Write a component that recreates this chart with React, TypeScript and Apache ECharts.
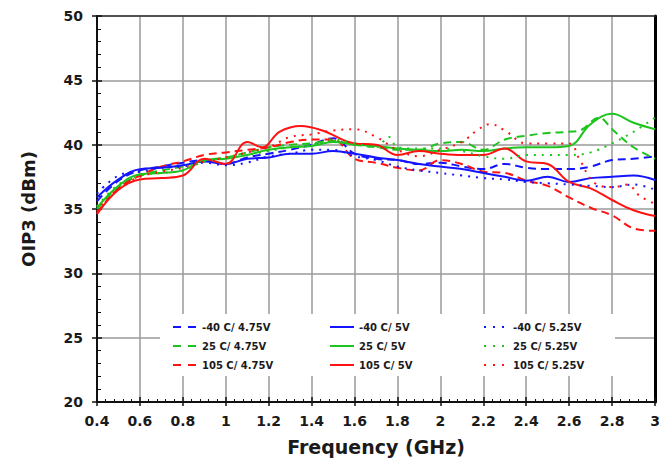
import React, { useEffect, useRef } from "react";
import * as echarts from "echarts";

const FONT = "DejaVu Sans";
const TXT = "#1a1a1a";

const BLUE = "#1414ff";
const GREEN = "#1ec41e";
const RED = "#ff1212";

const xMin = 0.4;
const xMax = 3;
const xStep = 0.2;
const yMin = 20;
const yMax = 50;
const yStep = 5;

const namesCol1 = ["-40 C/ 4.75V", "25 C/ 4.75V", "105 C/ 4.75V"];
const namesCol2 = ["-40 C/ 5V", "25 C/ 5V", "105 C/ 5V"];
const namesCol3 = ["-40 C/ 5.25V", "25 C/ 5.25V", "105 C/ 5.25V"];

const blue475: [number, number][] = [[0.4,35.6],[0.5,37.2],[0.6,38.0],[0.7,38.3],[0.8,38.6],[0.9,38.8],[1.0,38.5],[1.1,39.0],[1.2,39.3],[1.3,39.6],[1.4,40.0],[1.5,40.5],[1.6,39.3],[1.7,38.9],[1.8,38.8],[1.9,38.5],[2.0,38.6],[2.1,38.3],[2.2,38.1],[2.3,38.5],[2.4,38.2],[2.5,38.1],[2.6,38.1],[2.7,38.3],[2.8,38.8],[2.9,38.9],[3.0,39.1]];
const blue500: [number, number][] = [[0.4,35.9],[0.5,37.3],[0.6,38.1],[0.7,38.2],[0.8,38.4],[0.9,38.7],[1.0,38.5],[1.1,38.9],[1.2,39.0],[1.3,39.3],[1.4,39.3],[1.5,39.5],[1.6,39.3],[1.7,39.0],[1.8,38.8],[1.9,38.5],[2.0,38.3],[2.1,38.1],[2.2,37.8],[2.3,37.5],[2.4,37.2],[2.5,37.5],[2.6,37.1],[2.7,37.4],[2.8,37.5],[2.9,37.6],[3.0,37.25]];
const blue525: [number, number][] = [[0.4,36.2],[0.5,37.6],[0.6,37.9],[0.7,38.2],[0.8,38.3],[0.9,38.6],[1.0,38.4],[1.1,38.6],[1.2,39.1],[1.3,39.3],[1.4,39.6],[1.5,39.6],[1.6,39.1],[1.7,38.8],[1.8,38.3],[1.9,38.0],[2.0,37.8],[2.1,37.6],[2.2,37.4],[2.3,37.3],[2.4,37.1],[2.5,37.0],[2.6,36.9],[2.7,36.8],[2.8,36.7],[2.9,36.9],[3.0,36.5]];

const green475: [number, number][] = [[0.4,35.0],[0.5,36.7],[0.6,37.6],[0.7,38.0],[0.8,38.3],[0.9,38.8],[1.0,39.0],[1.1,39.4],[1.2,39.8],[1.3,40.0],[1.4,40.1],[1.5,40.3],[1.6,40.0],[1.7,39.8],[1.8,39.6],[1.9,39.6],[2.0,40.1],[2.1,40.2],[2.2,39.6],[2.3,40.4],[2.4,40.7],[2.5,40.9],[2.6,41.0],[2.65,41.1],[2.74,42.1],[2.8,41.2],[2.9,39.8],[3.0,38.9]];
const green500: [number, number][] = [[0.4,35.1],[0.5,36.8],[0.6,37.7],[0.7,37.8],[0.8,38.0],[0.9,38.8],[1.0,38.9],[1.1,39.2],[1.2,39.6],[1.3,39.8],[1.4,39.9],[1.5,40.2],[1.6,40.0],[1.7,39.9],[1.8,39.7],[1.9,39.6],[2.0,39.5],[2.1,39.6],[2.2,39.5],[2.3,39.7],[2.4,39.8],[2.5,39.8],[2.6,39.9],[2.7,41.6],[2.8,42.4],[2.9,41.7],[3.0,41.2]];
const green525: [number, number][] = [[0.4,35.2],[0.5,36.9],[0.6,37.6],[0.7,37.8],[0.8,38.0],[0.9,38.7],[1.0,39.0],[1.1,39.2],[1.2,39.5],[1.3,39.8],[1.4,40.0],[1.5,40.4],[1.6,40.1],[1.7,39.8],[1.76,40.6],[1.8,39.8],[1.9,39.7],[2.0,39.7],[2.1,39.5],[2.2,39.1],[2.3,38.9],[2.4,39.2],[2.5,39.2],[2.6,39.2],[2.7,39.4],[2.8,40.1],[2.9,41.0],[3.0,42.1]];

const red475: [number, number][] = [[0.4,34.7],[0.5,36.6],[0.6,37.6],[0.7,38.3],[0.8,38.7],[0.9,39.2],[1.0,39.4],[1.1,39.6],[1.2,39.8],[1.3,40.2],[1.4,40.4],[1.5,40.4],[1.6,38.9],[1.7,38.6],[1.8,38.2],[1.9,38.0],[2.0,38.8],[2.1,38.5],[2.2,37.9],[2.3,37.8],[2.4,37.2],[2.5,36.8],[2.6,35.9],[2.7,35.1],[2.8,34.5],[2.9,33.5],[3.0,33.3]];
const red500: [number, number][] = [[0.4,34.6],[0.5,36.5],[0.6,37.3],[0.7,37.4],[0.8,37.6],[0.9,38.9],[1.0,38.5],[1.1,40.2],[1.17,39.8],[1.25,41.0],[1.35,41.45],[1.45,41.1],[1.6,40.1],[1.7,40.0],[1.8,39.2],[1.9,39.5],[2.0,39.3],[2.1,39.2],[2.2,39.2],[2.3,39.7],[2.4,38.7],[2.5,38.5],[2.6,37.1],[2.7,36.6],[2.8,35.7],[2.9,34.9],[3.0,34.45]];
const red525: [number, number][] = [[0.4,34.8],[0.5,36.6],[0.6,37.5],[0.7,37.9],[0.8,38.2],[0.9,38.7],[1.0,39.0],[1.1,39.4],[1.2,39.8],[1.3,40.6],[1.4,40.8],[1.5,41.1],[1.6,41.2],[1.7,40.6],[1.8,39.6],[1.9,39.1],[2.0,39.6],[2.1,40.2],[2.17,41.1],[2.23,41.6],[2.3,41.1],[2.4,40.1],[2.5,40.1],[2.6,40.1],[2.65,38.8],[2.72,37.0],[2.81,36.7],[2.87,36.9],[2.93,36.0],[3.0,35.4]];

const DASH = [8, 5];
const DOT = [2, 6];
const LEG_DASH = [8, 7];
const LEG_DOT = [2, 7];

function mkSeries(name: string, data: [number, number][], color: string, type: any) {
  return {
    name,
    type: "line",
    data,
    smooth: 0.4,
    symbol: "none",
    showSymbol: false,
    xAxisIndex: 0,
    yAxisIndex: 0,
    itemStyle: { color },
    lineStyle: { color, width: 2, type },
    z: 3,
  };
}

export default function App() {
  const ref = useRef<HTMLDivElement>(null);
  useEffect(() => {
    if (!ref.current) return;
    const chart = echarts.init(ref.current, undefined, { renderer: "svg" });
    const xCommon = { type: "value", min: xMin, max: xMax, interval: xStep };
    const yCommon = { type: "value", min: yMin, max: yMax, interval: yStep };
    const labelStyle = { fontFamily: FONT, fontWeight: "bold", fontSize: 14, color: TXT };
    const colors = [BLUE, GREEN, RED];
    const legendBase = {
      orient: "vertical",
      top: 322,
      itemWidth: 24,
      itemHeight: 10,
      itemGap: 9,
      padding: 0,
      itemStyle: { opacity: 0, borderWidth: 0 },
      textStyle: { fontFamily: FONT, fontWeight: "bold", fontSize: 10, color: TXT },
    };
    const legData = (names: string[], type: any) =>
      names.map((n, i) => ({
        name: n,
        itemStyle: { opacity: 0, borderWidth: 0 },
        lineStyle: { color: colors[i], width: 2, type },
      }));
    chart.setOption({
      animation: false,
      backgroundColor: "#ffffff",
      grid: { left: 97, right: 15, top: 16, bottom: 60, containLabel: false },
      xAxis: [
        {
          ...xCommon,
          position: "bottom",
          axisLine: { show: true, lineStyle: { color: "#111", width: 2 } },
          axisTick: { show: true, inside: true, length: 5, lineStyle: { color: "#111", width: 1.5 } },
          minorTick: { show: true, splitNumber: 5, length: 3, lineStyle: { color: "#111", width: 1 } },
          axisLabel: { ...labelStyle, margin: 12, formatter: (v: number) => String(Math.round(v * 10) / 10) },
          splitLine: { show: true, lineStyle: { color: "#9a9a9a", width: 1.5 } },
          name: "Frequency (GHz)",
          nameLocation: "middle",
          nameGap: 35,
          nameTextStyle: { fontFamily: FONT, fontWeight: "bold", fontSize: 19, color: TXT },
        },
        {
          ...xCommon,
          position: "bottom",
          axisLine: { show: false },
          axisTick: { show: true, inside: false, length: 4, lineStyle: { color: "#111", width: 1.5 } },
          axisLabel: { show: false },
          splitLine: { show: false },
        },
        {
          ...xCommon,
          position: "top",
          axisLine: { show: true, lineStyle: { color: "#333", width: 1.5 } },
          axisTick: { show: false },
          axisLabel: { show: false },
          splitLine: { show: false },
        },
      ],
      yAxis: [
        {
          ...yCommon,
          position: "left",
          axisLine: { show: true, lineStyle: { color: "#111", width: 2 } },
          axisTick: { show: true, inside: true, length: 5, lineStyle: { color: "#111", width: 1.5 } },
          minorTick: { show: true, splitNumber: 5, length: 4, lineStyle: { color: "#111", width: 1 } },
          axisLabel: { ...labelStyle, margin: 14 },
          splitLine: { show: true, lineStyle: { color: "#9a9a9a", width: 1.5 } },
          name: "OIP3 (dBm)",
          nameLocation: "middle",
          nameGap: 60,
          nameRotate: 90,
          nameTextStyle: { fontFamily: FONT, fontWeight: "bold", fontSize: 18, color: TXT },
        },
        {
          ...yCommon,
          position: "left",
          axisLine: { show: false },
          axisTick: { show: true, inside: false, length: 5, lineStyle: { color: "#111", width: 1.5 } },
          axisLabel: { show: false },
          splitLine: { show: false },
        },
        {
          ...yCommon,
          position: "right",
          axisLine: { show: true, lineStyle: { color: "#000", width: 3 } },
          axisTick: { show: false },
          axisLabel: { show: false },
          splitLine: { show: false },
        },
      ],
      graphic: [
        {
          type: "rect",
          z: 1,
          shape: { x: 160, y: 314, width: 455, height: 62 },
          style: { fill: "#ffffff" },
          silent: true,
        },
      ],
      legend: [
        { ...legendBase, left: 172, data: legData(namesCol1, LEG_DASH) },
        { ...legendBase, left: 329, data: legData(namesCol2, "solid") },
        { ...legendBase, left: 483, data: legData(namesCol3, LEG_DOT) },
      ],
      series: [
        mkSeries(namesCol1[0], blue475, BLUE, DASH),
        mkSeries(namesCol1[1], green475, GREEN, DASH),
        mkSeries(namesCol1[2], red475, RED, DASH),
        mkSeries(namesCol2[0], blue500, BLUE, "solid"),
        mkSeries(namesCol2[1], green500, GREEN, "solid"),
        mkSeries(namesCol2[2], red500, RED, "solid"),
        mkSeries(namesCol3[0], blue525, BLUE, DOT),
        mkSeries(namesCol3[1], green525, GREEN, DOT),
        mkSeries(namesCol3[2], red525, RED, DOT),
      ],
    });
    return () => chart.dispose();
  }, []);
  return (
    <div
      ref={ref}
      style={{ position: "fixed", left: 0, top: 0, width: 670, height: 462 }}
    />
  );
}
